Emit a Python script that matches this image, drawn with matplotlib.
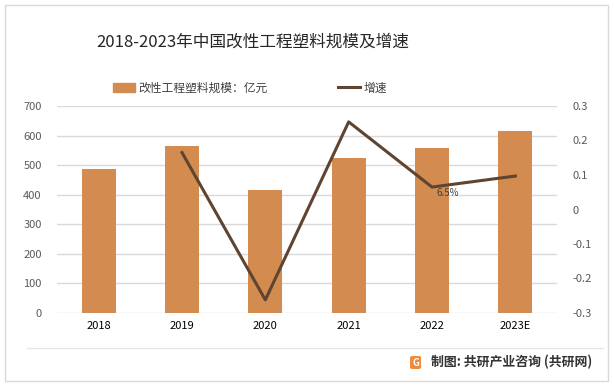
import matplotlib.pyplot as plt
import matplotlib.patches as mpatches
from matplotlib.lines import Line2D
import numpy as np

plt.rcParams["font.family"] = ["Noto Sans CJK SC", "DejaVu Sans"]

years = ["2018", "2019", "2020", "2021", "2022", "2023E"]
scale = [487, 565, 416, 524, 558, 615]
growth_years = ["2019", "2020", "2021", "2022", "2023E"]
growth = [0.165, -0.262, 0.254, 0.065, 0.097]
left_ticks = [0, 100, 200, 300, 400, 500, 600, 700]
right_ticks = [-0.3, -0.2, -0.1, 0, 0.1, 0.2, 0.3]
right_labels = ["-0.3", "-0.2", "-0.1", "0", "0.1", "0.2", "0.3"]

bar_color = "#D38B4F"
line_color = "#5E4431"
tick_color = "#595959"

fig = plt.figure(figsize=(6.14, 3.86), dpi=100)
W, H = 614, 386

# outer frame
fig.patches.append(mpatches.Rectangle((5 / W, 5 / H), 603 / W, 376 / H, transform=fig.transFigure,
                                      fill=False, edgecolor="#D9D9D9", linewidth=1))
# separator above footer
fig.lines.append(Line2D([27 / W, 603 / W], [1 - 348 / H, 1 - 348 / H], transform=fig.transFigure,
                        color="#E6E6E6", linewidth=1))

ax = fig.add_axes([57 / W, 1 - 313 / H, 500 / W, 207 / H])
x = np.arange(len(years))
ax.bar(x, scale, width=0.41, color=bar_color, zorder=2)
ax.set_xlim(-0.5, len(years) - 0.5)
ax.set_ylim(0, 700)
ax.set_yticks(left_ticks)
ax.set_xticks(x)
ax.set_xticklabels(years, fontsize=8, color="#000000")
ax.tick_params(axis="y", labelsize=8, labelcolor=tick_color, length=0, pad=11)
ax.tick_params(axis="x", length=0, pad=6)
ax.grid(axis="y", color="#D9D9D9", linewidth=1, zorder=0)
for s in ax.spines.values():
    s.set_visible(False)

ax2 = ax.twinx()
gx = [years.index(y) for y in growth_years]
ax2.plot(gx, growth, color=line_color, linewidth=2.2, zorder=3)
ax2.set_ylim(-0.3, 0.3)
ax2.set_yticks(right_ticks)
ax2.set_yticklabels(right_labels)
ax2.tick_params(axis="y", labelsize=8, labelcolor=tick_color, length=0, pad=11)
for s in ax2.spines.values():
    s.set_visible(False)
i22 = growth_years.index("2022")
ax2.annotate("6.5%", (gx[i22], growth[i22]), xytext=(3, -4), textcoords="offset points",
             fontsize=7, color="#404040", va="center", ha="left")

fig.text(253 / W, 1 - 42 / H, "2018-2023年中国改性工程塑料规模及增速", fontsize=12,
         color="#262626", ha="center", va="center")

# legend
handles = [mpatches.Patch(color=bar_color), Line2D([], [], color=line_color, linewidth=2.2)]
fig.legend(handles, ["改性工程塑料规模：亿元", "增速"], loc="center", bbox_to_anchor=(250 / W, 1 - 88 / H),
           ncol=2, frameon=False, fontsize=8.5, handlelength=1.8, handletextpad=0.3,
           columnspacing=6, labelcolor="#404040")

# footer
fig.patches.append(mpatches.FancyBboxPatch((410 / W, 1 - 369 / H), 11 / W, 13 / H,
                                           boxstyle="round,pad=0,rounding_size=0.004",
                                           transform=fig.transFigure, facecolor="#F08A3C",
                                           edgecolor="none"))
fig.text(415.5 / W, 1 - 362.5 / H, "G", fontsize=7, fontweight="bold", color="white",
         ha="center", va="center")
fig.text(431 / W, 1 - 362 / H, "制图: 共研产业咨询 (共研网)", fontsize=9.3, color="#333333",
         ha="left", va="center", fontweight="bold")

fig.savefig("out.png", dpi=100)
